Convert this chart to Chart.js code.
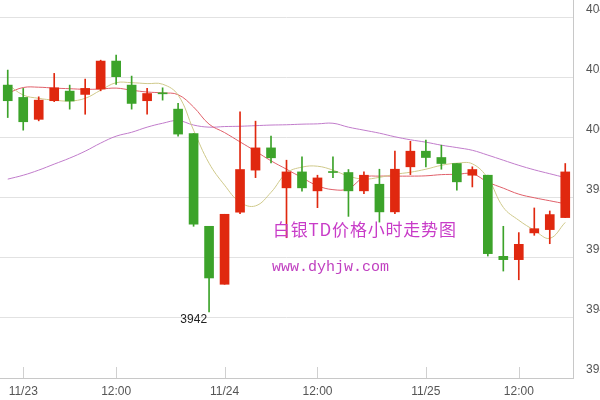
<!DOCTYPE html>
<html><head><meta charset="utf-8">
<script src="https://cdn.jsdelivr.net/npm/chart.js@4"></script>
<style>
html,body{margin:0;padding:0;overflow:hidden;background:#fff;width:600px;height:400px}
#wrap{position:relative;width:630px;height:400px}
</style>
</head><body><div id="wrap"><canvas id="c"></canvas></div>
<script>
// hourly bars (category axis)
const categories = ['11/22 23:00','11/23 00:00','01:00','02:00','09:00','10:00','11:00','12:00','13:00','14:00','15:00','21:00','22:00','23:00',
  '11/24 00:00','01:00','02:00','09:00','10:00','11:00','12:00','13:00','14:00','15:00','21:00','22:00','23:00',
  '11/25 00:00','01:00','02:00','09:00','10:00','11:00','12:00','13:00','14:00','15:00'];
const xTickLabels = {1:'11/23', 7:'12:00', 14:'11/24', 20:'12:00', 27:'11/25', 33:'12:00'};

const openV  = [4017.5,4013.4,4006.1,4012.3,4015.5,4014.4,4016.2,4025.5,4017.5,4012.3,4014.8,4009.5,4001.4,3970.5,3951.2,3975.2,3989.2,3996.6,3983.3,3988.6,3982.3,3988.5,3988.4,3982.3,3984.5,3975.3,3990.3,3995.5,3993.4,3991.4,3987.5,3987.5,3960.5,3959.4,3968.3,3969.4,3973.4];
const closeV = [4012.3,4005.3,4012.5,4016.6,4012.2,4016.4,4025.5,4020.3,4011.4,4014.7,4014.6,4001.2,3971.2,3953.3,3974.5,3989.4,3996.6,3993.3,3988.6,3983.3,3986.6,3988.4,3982.3,3987.5,3975.3,3989.5,3995.5,3993.4,3991.4,3985.3,3989.4,3961.4,3959.4,3964.5,3969.7,3974.4,3988.6];
const highV  = [4022.5,4016.4,4013.6,4021.4,4017.5,4019.5,4025.8,4027.5,4020.5,4016.4,4016.6,4011.4,4001.4,3970.5,3974.5,4008.6,4005.5,4000.5,3992.5,3993.6,3987.5,3993.6,3989.4,3988.6,3989.5,3995.5,3998.8,3999.2,3997.5,3991.4,3990.3,3987.5,3970.5,3968.4,3976.6,3975.6,3991.4];
const lowV   = [4006.7,4002.5,4005.6,4012.0,4009.5,4007.8,4015.6,4017.7,4009.5,4007.8,4012.5,4000.5,3970.5,3942.0,3951.2,3974.7,3986.7,3991.6,3966.7,3982.2,3976.7,3986.7,3973.8,3981.4,3971.9,3974.7,3987.7,3990.3,3989.5,3982.5,3983.6,3960.6,3955.6,3952.7,3967.5,3964.7,3973.4];

const ma5  = [4017.8,4014.2,4013.1,4012.5,4012.2,4013.1,4015.8,4018.3,4018.3,4018.0,4017.8,4014.2,4002.5,3991.5,3984.2,3978.5,3977.3,3981.8,3988.2,3990.2,3990.5,3989.2,3987.2,3986.2,3986.8,3987.8,3988.5,3989.5,3990.8,3991.5,3991.3,3986.5,3976.8,3972.5,3969.2,3966.5,3971.8];
const ma10 = [4014.8,4016.7,4016.8,4016.5,4016.3,4016.1,4016.2,4016.5,4015.8,4015.2,4014.9,4014.3,4010.2,4004.5,4001.7,3998.6,3995.5,3992.3,3989.5,3986.7,3984.0,3982.7,3983.0,3986.8,3987.2,3987.2,3987.2,3987.3,3987.7,3987.8,3988.0,3985.2,3983.2,3981.2,3980.0,3979.0,3978.0];
const ma20 = [3986.2,3987.5,3989.2,3991.2,3993.2,3995.5,3998.2,4000.5,4001.8,4003.5,4004.8,4005.7,4004.2,4003.5,4003.7,4003.8,4004.0,4004.2,4004.3,4004.5,4004.6,4004.8,4003.5,4002.5,4001.5,4000.3,3999.3,3998.5,3997.5,3996.7,3995.8,3994.2,3992.5,3990.8,3989.3,3988.0,3986.7];

const yMin = 3920, yMax = 4045.83, yStep = 20;
const titleText = '白银TD价格小时走势图';
const siteText = 'www.dyhjw.com';

const UP = '#e0280f', DOWN = '#3ca32a';
const candleColors = openV.map((o,i) => closeV[i] >= o ? UP : DOWN);

const overlay = {
  id: 'overlay',
  afterDraw(chart) {
    const ctx = chart.ctx, xs = chart.scales.x, ys = chart.scales.y, ca = chart.chartArea;
    ctx.save();
    ctx.strokeStyle = '#d0d0d0'; ctx.lineWidth = 1;
    Object.keys(xTickLabels).forEach(k => {
      const x = Math.round(xs.getPixelForValue(+k)) + 0.5;
      ctx.beginPath(); ctx.moveTo(x, ca.bottom - 11); ctx.lineTo(x, ca.bottom); ctx.stroke();
    });
    let mi = 0; lowV.forEach((v,i) => { if (v < lowV[mi]) mi = i; });
    ctx.fillStyle = '#222'; ctx.font = '12px "Liberation Sans", Arial, sans-serif';
    ctx.textAlign = 'right'; ctx.textBaseline = 'middle';
    ctx.fillText(String(Math.floor(lowV[mi])), xs.getPixelForValue(mi) - 2, ys.getPixelForValue(lowV[mi]) + 8);
    ctx.textAlign = 'left';
    ctx.fillStyle = '#c83cc8';
    ctx.font = '17px "Noto Sans CJK SC", sans-serif';
    if ('letterSpacing' in ctx) ctx.letterSpacing = '0.8px';
    ctx.fillText(titleText, 273, 230);
    if ('letterSpacing' in ctx) ctx.letterSpacing = '0px';
    ctx.fillStyle = '#c040c0';
    ctx.font = '15px "Liberation Mono", monospace';
    ctx.fillText(siteText, 272, 267);
    ctx.restore();
  }
};

new Chart(document.getElementById('c'), {
  type: 'bar',
  data: {
    labels: categories,
    datasets: [
      { label: 'body', data: openV.map((o,i) => [o, closeV[i]]), backgroundColor: candleColors,
        barThickness: 9, grouped: false, minBarLength: 1, borderWidth: 0, order: 0 },
      { label: 'wick', data: lowV.map((l,i) => [l, highV[i]]), backgroundColor: candleColors,
        barThickness: 1, grouped: false, borderWidth: 0, order: 1 },
      { type: 'line', label: 'MA5', data: ma5, borderColor: '#cfc98a', borderWidth: 1, pointRadius: 0, tension: 0.4, fill: false, order: 2 },
      { type: 'line', label: 'MA10', data: ma10, borderColor: '#e0606a', borderWidth: 1, pointRadius: 0, tension: 0.4, fill: false, order: 2 },
      { type: 'line', label: 'MA20', data: ma20, borderColor: '#c17ccb', borderWidth: 1, pointRadius: 0, tension: 0.4, fill: false, order: 2 }
    ]
  },
  options: {
    responsive: true, maintainAspectRatio: false, animation: false,
    layout: { padding: 0 },
    plugins: { legend: { display: false }, tooltip: { enabled: false } },
    scales: {
      x: {
        type: 'category', offset: true,
        grid: { display: false, drawTicks: false },
        border: { display: true, color: '#c8c8c8' },
        ticks: { autoSkip: false, maxRotation: 0, padding: 6, color: '#555',
          font: { size: 12, family: '"Liberation Sans", Arial, sans-serif' },
          callback: (v, i) => xTickLabels[i] || '' },
        afterFit(s) { s.height = 22; s.paddingLeft = 0; s.paddingRight = 0; }
      },
      y: {
        position: 'right', min: yMin, max: yMax,
        grid: { color: '#e2e2e2', drawTicks: false },
        border: { display: true, color: '#c8c8c8' },
        ticks: { stepSize: yStep, includeBounds: false, labelOffset: -8, padding: 13, color: '#555',
          font: { size: 12, family: '"Liberation Sans", Arial, sans-serif' },
          callback: v => String(v) },
        afterFit(s) { s.width = 57; s.paddingTop = 0; s.paddingBottom = 0; }
      }
    }
  },
  plugins: [overlay]
});
</script>
</body></html>
